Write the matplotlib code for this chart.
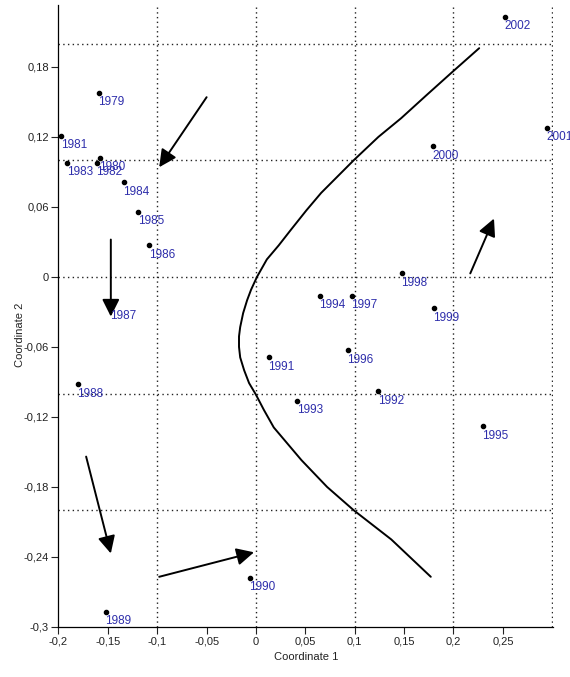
import matplotlib
matplotlib.use("Agg")
import matplotlib.pyplot as plt
import numpy as np
from matplotlib.ticker import FixedLocator, FuncFormatter


# yearly positions (Coordinate 1, Coordinate 2)
years = [1979, 1980, 1981, 1982, 1983, 1984, 1985, 1986, 1987, 1988,
         1989, 1990, 1991, 1992, 1993, 1994, 1995, 1996, 1997, 1998,
         1999, 2000, 2001, 2002]
coord1 = [-0.159, -0.158, -0.197, -0.161, -0.191, -0.134, -0.119, -0.108, -0.147, -0.180,
          -0.152, -0.006, 0.013, 0.124, 0.042, 0.065, 0.230, 0.093, 0.097, 0.148,
          0.180, 0.179, 0.295, 0.252]
coord2 = [0.158, 0.102, 0.121, 0.098, 0.098, 0.081, 0.056, 0.027, -0.025, -0.092,
          -0.287, -0.258, -0.069, -0.098, -0.106, -0.016, -0.128, -0.063, -0.016, 0.003,
          -0.027, 0.112, 0.128, 0.223]

# hand-drawn trend curve
curve_x = [0.226, 0.198, 0.173, 0.147, 0.124, 0.099, 0.066, 0.051, 0.035, 0.023,
           0.011, 0.001, -0.005, -0.009, -0.013, -0.016, -0.0172, -0.0172, -0.016, -0.012,
           -0.007, 0.000, 0.008, 0.018, 0.046, 0.072, 0.099, 0.137, 0.177]
curve_y = [0.196, 0.175, 0.156, 0.136, 0.120, 0.100, 0.072, 0.057, 0.040, 0.027,
           0.015, 0.000, -0.011, -0.020, -0.031, -0.043, -0.051, -0.060, -0.069, -0.080,
           -0.091, -0.101, -0.114, -0.129, -0.157, -0.180, -0.200, -0.225, -0.257]

# direction arrows (start -> end)
arrow_start_x = [-0.050, -0.147, -0.172, -0.098, 0.217]
arrow_start_y = [0.154, 0.032, -0.154, -0.257, 0.003]
arrow_end_x = [-0.098, -0.147, -0.147, -0.002, 0.241]
arrow_end_y = [0.094, -0.034, -0.237, -0.236, 0.050]

x_ticks = [-0.2, -0.15, -0.1, -0.05, 0, 0.05, 0.1, 0.15, 0.2, 0.25]
y_ticks = [-0.3, -0.24, -0.18, -0.12, -0.06, 0, 0.06, 0.12, 0.18]
x_grid = [-0.1, 0, 0.1, 0.2, 0.3]
y_grid = [-0.2, -0.1, 0, 0.1, 0.2]

LABEL_BLUE = "#2e2eab"

plt.rcParams["font.family"] = ["Liberation Sans", "DejaVu Sans"]


def comma_fmt(v, pos):
    s = f"{v:g}"
    if s == "-0":
        s = "0"
    return s.replace(".", ",")


fig = plt.figure(figsize=(5.7, 6.77), dpi=100)
ax = fig.add_axes([0.1026, 0.0739, 0.868, 0.9187])

ax.set_xlim(-0.2, 0.301)
ax.set_ylim(-0.3, 0.233)

for gx in x_grid:
    ax.axvline(gx, color="#222222", lw=1.0, ls=(0, (1, 2.4)), zorder=1)
for gy in y_grid:
    ax.axhline(gy, color="#222222", lw=1.0, ls=(0, (1, 2.4)), zorder=1)

ax.plot(curve_x, curve_y, color="black", lw=1.4, zorder=2,
        solid_joinstyle="round", solid_capstyle="round")

for sx, sy, ex, ey in zip(arrow_start_x, arrow_start_y, arrow_end_x, arrow_end_y):
    ax.annotate(
        "",
        xy=(ex, ey),
        xytext=(sx, sy),
        arrowprops=dict(
            arrowstyle="-|>,head_length=0.7,head_width=0.35",
            mutation_scale=15,
            color="black",
            lw=1.4,
            shrinkA=0,
            shrinkB=0,
        ),
        zorder=3,
    )

ax.scatter(coord1, coord2, s=9, color="black", zorder=4, clip_on=False)

for yr, x, y in zip(years, coord1, coord2):
    ax.annotate(
        str(yr),
        xy=(x, y),
        xytext=(-0.5, -2.5),
        textcoords="offset points",
        ha="left",
        va="top",
        fontsize=8.5,
        color=LABEL_BLUE,
        zorder=5,
        annotation_clip=False,
    )

ax.xaxis.set_major_locator(FixedLocator(x_ticks))
ax.yaxis.set_major_locator(FixedLocator(y_ticks))
ax.xaxis.set_major_formatter(FuncFormatter(comma_fmt))
ax.yaxis.set_major_formatter(FuncFormatter(comma_fmt))
ax.tick_params(direction="out", length=5, width=0.8, labelsize=8,
               colors="#222222", pad=2)

ax.spines["top"].set_visible(False)
ax.spines["right"].set_visible(False)
ax.spines["left"].set_linewidth(0.9)
ax.spines["bottom"].set_linewidth(0.9)

ax.set_xlabel("Coordinate 1", fontsize=8, color="#222222", labelpad=4)
ax.set_ylabel("Coordinate 2", fontsize=8, color="#222222", labelpad=2)
ax.yaxis.set_label_coords(-0.068, 0.47)

fig.savefig("out.png", dpi=100)
plt.close(fig)
